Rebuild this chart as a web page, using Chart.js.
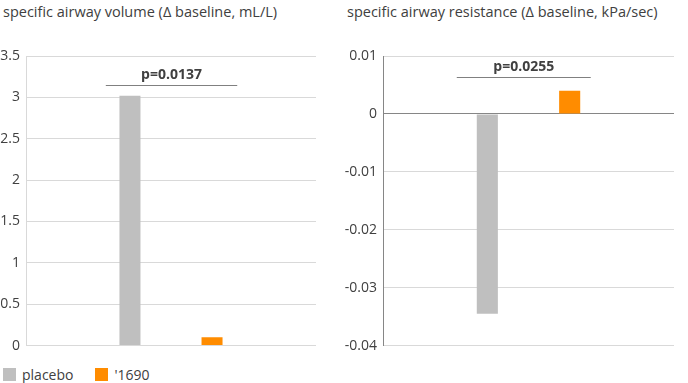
<!DOCTYPE html>
<html>
<head>
<meta charset="utf-8">
<script src="https://cdn.jsdelivr.net/npm/chart.js@4"></script>
<style>
  body { margin: 0; background: #fff; font-family: 'Open Sans', sans-serif; color: #404040; }
  #wrap { position: relative; width: 688px; height: 383px; overflow: hidden; }
  .title { position: absolute; top: 2px; font-size: 14.5px; line-height: 20px; white-space: nowrap; }
  canvas { position: absolute; top: 40px; }
  #legend { position: absolute; left: 3px; top: 366px; font-size: 14px; line-height: 17px; display: flex; }
  .item { display: flex; align-items: center; margin-right: 22px; }
  .swatch { width: 13px; height: 13px; margin-right: 6px; }
</style>
</head>
<body>
<div id="wrap">
  <div class="title" id="title-vol" style="left:3px"></div>
  <div class="title" id="title-res" style="left:347px"></div>
  <canvas id="volChart" width="330" height="320" style="left:0"></canvas>
  <canvas id="resChart" width="344" height="320" style="left:344px"></canvas>
  <div id="legend"></div>
</div>
<script>
// data
const seriesNames = ['placebo', "'1690"];
const seriesColors = ['#bfbfbf', '#ff8c00'];
const volumeValues = [3.02, 0.1];
const resistanceValues = [-0.0345, 0.004];
const volumeTitle = 'specific airway volume (\u0394 baseline, mL/L)';
const resistanceTitle = 'specific airway resistance (\u0394 baseline, kPa/sec)';
const volumeP = 'p=0.0137';
const resistanceP = 'p=0.0255';
const volumeBracketLevel = 3.15;
const resistanceBracketLevel = 0.0063;

Chart.defaults.font.family = "'Open Sans', sans-serif";
Chart.defaults.font.size = 14;
Chart.defaults.color = '#404040';

// p-value bracket above the two bars (overhang given in bar widths)
const pBracket = {
    id: 'pBracket',
    afterDatasetsDraw(chart, args, opts) {
        const ctx = chart.ctx;
        const y = chart.scales.y;
        const b0 = chart.getDatasetMeta(0).data[0];
        const b1 = chart.getDatasetMeta(1).data[0];
        const x0 = b0.x - b0.width * opts.overhang[0];
        const x1 = b1.x + b1.width * opts.overhang[1];
        const yy = Math.round(y.getPixelForValue(opts.level)) + 0.5;
        ctx.save();
        ctx.strokeStyle = '#808080';
        ctx.lineWidth = 1;
        ctx.beginPath();
        ctx.moveTo(x0, yy);
        ctx.lineTo(x1, yy);
        ctx.stroke();
        ctx.fillStyle = '#404040';
        ctx.font = "bold 14px 'Open Sans', sans-serif";
        ctx.textAlign = 'center';
        ctx.textBaseline = 'alphabetic';
        ctx.fillText(opts.label, (x0 + x1) / 2, yy - 7);
        ctx.restore();
    }
};

function makeChart(id, values, yMin, yMax, step, axisWidth, zeroColor, borderColor, bracket) {
    return new Chart(document.getElementById(id), {
        type: 'bar',
        data: {
            labels: [''],
            datasets: seriesNames.map((name, i) => ({
                label: name,
                data: [values[i]],
                backgroundColor: seriesColors[i],
                categoryPercentage: 0.566,
                barPercentage: 0.256
            }))
        },
        options: {
            responsive: false,
            animation: false,
            layout: { padding: { top: 16, bottom: 14, right: 14, left: 0 } },
            plugins: {
                legend: { display: false },
                tooltip: { enabled: false },
                pBracket: bracket
            },
            scales: {
                x: { display: false },
                y: {
                    min: yMin,
                    max: yMax,
                    ticks: {
                        stepSize: step,
                        padding: 6,
                        color: '#404040',
                        callback: v => String(+v.toFixed(3))
                    },
                    grid: {
                        drawTicks: false,
                        color: c => (Math.abs(c.tick.value) < 1e-9 ? zeroColor : '#d9d9d9')
                    },
                    border: { color: borderColor },
                    afterFit(scale) { scale.width = axisWidth; }
                }
            }
        },
        plugins: [pBracket]
    });
}

makeChart('volChart', volumeValues, 0, 3.5, 0.5, 26, '#d9d9d9', '#d9d9d9',
    { label: volumeP, level: volumeBracketLevel, overhang: [1.15, 1.2] });
makeChart('resChart', resistanceValues, -0.04, 0.01, 0.01, 39, '#868686', '#868686',
    { label: resistanceP, level: resistanceBracketLevel, overhang: [1.45, 1.0] });

document.getElementById('title-vol').textContent = volumeTitle;
document.getElementById('title-res').textContent = resistanceTitle;

const legend = document.getElementById('legend');
seriesNames.forEach((name, i) => {
    const item = document.createElement('div');
    item.className = 'item';
    item.innerHTML = `<span class="swatch" style="background:${seriesColors[i]}"></span><span>${name}</span>`;
    legend.appendChild(item);
});
</script>
</body>
</html>
